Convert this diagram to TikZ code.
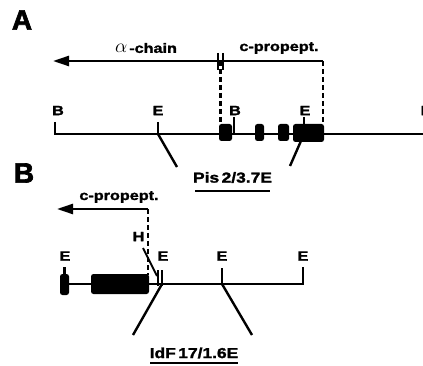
\documentclass[tikz,border=0pt]{standalone}
\usepackage{fontspec}
\setmainfont{Liberation Sans}
\newfontfamily\lblfont[FakeStretch=1.2, BoldFeatures={FakeBold=1.6}]{Liberation Sans}
\newfontfamily\panelfont[BoldFeatures={FakeBold=2.5}]{Liberation Sans}
\usetikzlibrary{arrows.meta}
\tikzset{
  ln/.style={line width=2.4pt},
  dsh/.style={line width=2.4pt, dash pattern=on 5pt off 3pt},
  arr/.style={line width=2.4pt, -{Triangle[length=16pt,width=10pt]}},
  exon/.style={fill=black, rounded corners=2.5pt},
  lbl/.style={inner sep=0pt, font=\lblfont\bfseries\fontsize{13.5}{14}\selectfont},
  clone/.style={inner sep=0pt, font=\lblfont\bfseries\fontsize{14.5}{15}\selectfont},
  panel/.style={inner sep=0pt, font=\panelfont\bfseries\fontsize{28}{30}\selectfont},
}
\begin{document}
\begin{tikzpicture}[x=1pt,y=-1pt]
\clip (0,0) rectangle (423,366);
\fill[white] (0,0) rectangle (423,366);

% ---------------- Panel A ----------------
\node[panel] (pA) at (22,20) {A};
\node[lbl] (alpha) at (146,48) {\scalebox{1.35}{$\alpha$}\hspace{2pt}-chain};
\node[lbl] (cpA) at (279,48) {c-propept.};

\coordinate (aR) at (323,61);
\coordinate (aL) at (53,61);
\draw[arr] (aR) -- (aL);
\draw[line width=1.9pt] (218,53) -- (218,70) (222.8,53) -- (222.8,70);
\draw[dsh] (220.4,61) -- (220.4,124);
\draw[dsh] (aR) -- (323,124);

% genomic line A
\coordinate (gA0) at (55,122);
\coordinate (gA1) at (55,134);
\coordinate (gA2) at (423,134);
\draw[ln] (gA0) -- (gA1) -- (gA2);
\coordinate (eA1) at (158,134);
\coordinate (bA2) at (234,134);
\coordinate (eA2) at (304,134);
\draw[ln] (158,122) -- (eA1);
\draw[ln] (234,117) -- (bA2);
\draw[ln] (304,117) -- (eA2);

\node[lbl] (lB1) at (58,110.5) {B};
\node[lbl] (lE1) at (158,110.5) {E};
\node[lbl] (lB2) at (235,110.5) {B};
\node[lbl] (lE2) at (305,110.5) {E};
\node[lbl, anchor=west] (lB3) at (420.5,110.5) {B};

\fill[exon] (219,124) rectangle (232,141);
\fill[exon] (255,124) rectangle (264,141);
\fill[exon] (278,124) rectangle (289,141);
\fill[exon] (293,124) rectangle (324,142);

\coordinate (pisL) at (177,167);
\coordinate (pisR) at (290,166);
\draw[ln] (eA1) -- (pisL);
\draw[ln] (eA2) -- (pisR);
\node[clone] (pis) at (232.5,177.5) {Pis\hspace{2.5pt}2/3.7E};
\draw[ln] (195,191) -- (270,191);

% ---------------- Panel B ----------------
\node[panel] (pB) at (24,173) {B};
\node[lbl] (cpB) at (119,197) {c-propept.};

\coordinate (bR) at (148,209);
\coordinate (bL) at (57,209);
\draw[arr] (bR) -- (bL);
\draw[dsh] (bR) -- (148,275);

\node[lbl] (lH) at (138.5,236.5) {H};
\draw[line width=2pt] (143,248) -- (157,276);

\node[lbl] (bE1) at (65,256) {E};
\node[lbl] (bE2) at (163,256) {E};
\node[lbl] (bE3) at (222,256) {E};
\node[lbl] (bE4) at (303,256) {E};

\draw[ln] (64.5,267) -- (64.5,276);
\fill[exon] (60,274) rectangle (69,295);
\draw[ln] (69,284) -- (92,284);
\fill[exon] (91,274) rectangle (149,294);

\coordinate (gB1) at (162,284);
\coordinate (gB2) at (222,284);
\coordinate (gB3) at (303,284);
\draw[ln] (148,284) -- (gB3) -- (303,267);
\draw[line width=2pt] (158,270) -- (158,286) (162.2,270) -- (162.2,286);
\draw[ln] (222,268) -- (gB2);

\coordinate (idL) at (133,335);
\coordinate (idR) at (252,335);
\draw[ln] (gB1) -- (idL);
\draw[ln] (gB2) -- (idR);
\node[clone] (idf) at (194,353) {IdF\hspace{2.5pt}17/1.6E};
\draw[ln] (150,363) -- (238,363);
\end{tikzpicture}
\end{document}
